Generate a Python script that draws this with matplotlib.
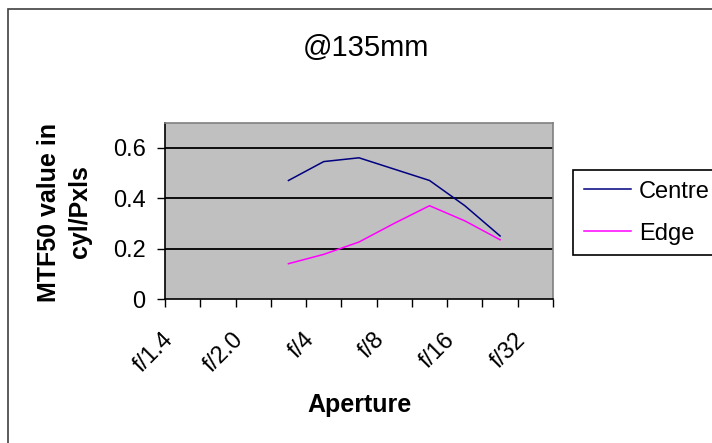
import matplotlib.pyplot as plt
import numpy as np
from matplotlib.patches import Rectangle
from matplotlib.transforms import ScaledTranslation

plt.rcParams["font.family"] = ["Liberation Sans", "DejaVu Sans"]

apertures = ["f/1.4", "f/1.7", "f/2.0", "f/2.8", "f/4", "f/5.6",
             "f/8", "f/11", "f/16", "f/22", "f/32"]
centre = [None, None, None, 0.47, 0.545, 0.56, 0.515, 0.47, 0.37, 0.25, None]
edge = [None, None, None, 0.14, 0.177, 0.226, 0.30, 0.37, 0.31, 0.235, None]
shown_labels = ["f/1.4", "f/2.0", "f/4", "f/8", "f/16", "f/32"]

W, H = 712, 443
fig = plt.figure(figsize=(W / 100, H / 100), dpi=100)
ax = fig.add_axes([165 / W, 1 - 299 / H, 388 / W, 176.5 / H])

x = np.arange(len(apertures))
c = np.array([np.nan if v is None else v for v in centre])
e = np.array([np.nan if v is None else v for v in edge])

ax.set_facecolor("#C0C0C0")
ax.plot(x, c, color="#000080", lw=1.1, label="Centre")
ax.plot(x, e, color="#FF00FF", lw=1.1, label="Edge")

ax.set_xlim(-0.5, len(apertures) - 0.5)
ax.set_ylim(0, 0.7)
ax.set_yticks([0, 0.2, 0.4, 0.6])
ax.set_yticklabels(["0", "0.2", "0.4", "0.6"])
for yv in [0.2, 0.4, 0.6]:
    ax.axhline(yv, color="black", lw=1.3, zorder=1)

# category boundaries carry tick marks, centres carry labels
ax.set_xticks(np.arange(-0.5, len(apertures)))
ax.set_xticklabels([])
lab_pos = [apertures.index(s) for s in shown_labels]
ax.set_xticks(lab_pos, minor=True)
ax.set_xticklabels(shown_labels, minor=True, rotation=45, ha="right",
                   va="center", rotation_mode="anchor")
ax.tick_params(axis="x", which="major", direction="out", length=6,
               width=1, color="black")
ax.tick_params(axis="x", which="minor", length=0, pad=27, labelsize=17)
off = ScaledTranslation(-13 / 100, 0, fig.dpi_scale_trans)
for lab in ax.get_xticklabels(minor=True):
    lab.set_transform(lab.get_transform() + off)
ax.tick_params(axis="y", direction="out", length=6, width=1, pad=8,
               labelsize=17, color="black")

for s in ["left", "bottom"]:
    ax.spines[s].set_color("black")
    ax.spines[s].set_linewidth(1.2)
for s in ["top", "right"]:
    ax.spines[s].set_color("#808080")
    ax.spines[s].set_linewidth(1.2)

fig.text(366 / W, 1 - 48 / H, "@135mm", fontsize=21, ha="center", va="center")
fig.text(359 / W, 1 - 405 / H, "Aperture", fontsize=18, fontweight="bold",
         ha="center", va="center")
fig.text(64.5 / W, 1 - 212 / H, "MTF50 value in\ncyl/Pxls", fontsize=18,
         fontweight="bold", rotation=90, ha="center", va="center",
         multialignment="center", linespacing=1.35)

leg = fig.legend(loc="upper left", bbox_to_anchor=(573 / W, 1 - 170 / H),
                 fontsize=17, frameon=True, fancybox=False, shadow=False,
                 borderpad=0.45, handlelength=2.0, handletextpad=0.35,
                 labelspacing=0.85, borderaxespad=0)
leg.get_frame().set_edgecolor("black")
leg.get_frame().set_linewidth(1.2)
leg.get_frame().set_facecolor("white")
leg.get_frame().set_alpha(1)

fig.add_artist(Rectangle((8 / W, -0.1), 1.2, 1.1 - 9 / H,
                         transform=fig.transFigure, fill=False,
                         edgecolor="#404040", lw=1.2))

fig.savefig("out.png", dpi=100)
